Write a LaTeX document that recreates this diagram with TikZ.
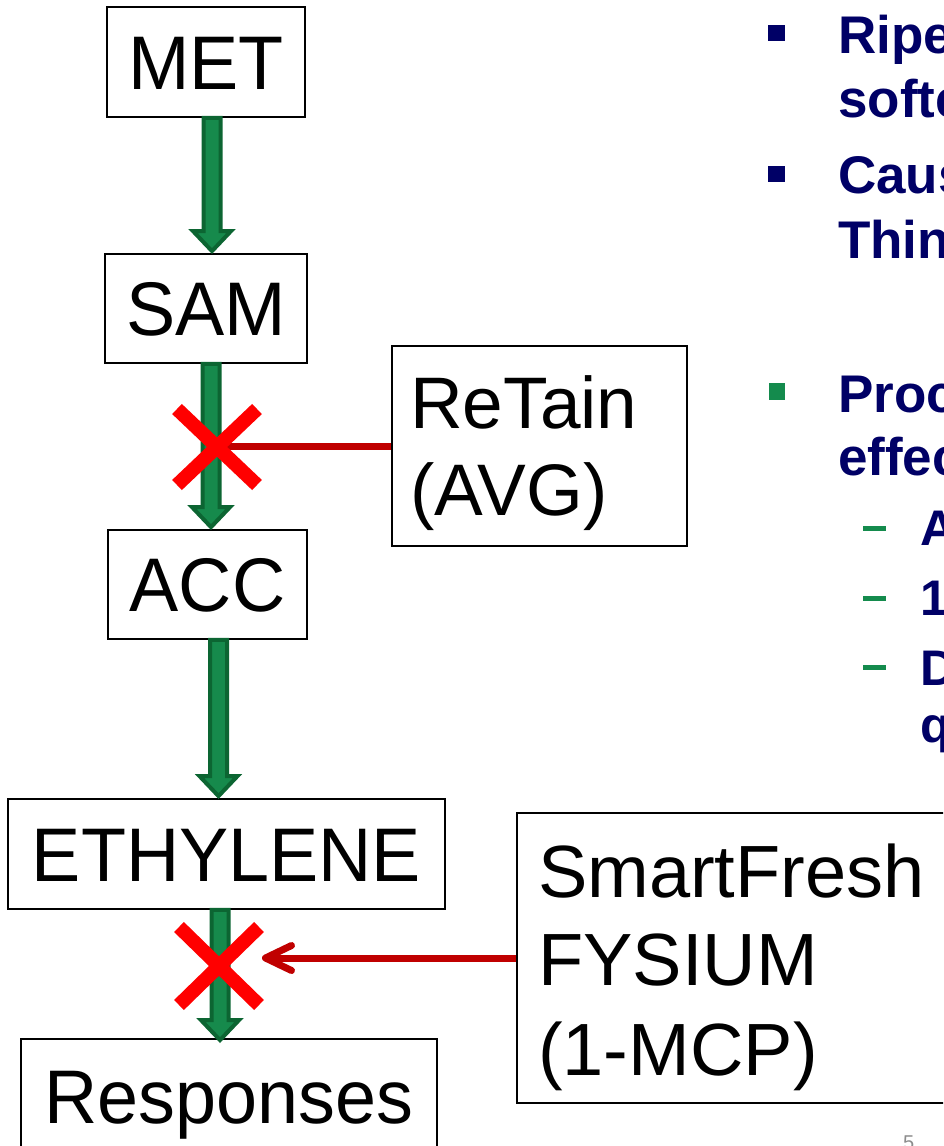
\documentclass[tikz,border=0pt]{standalone}
\usepackage{fontspec}
\setmainfont{Liberation Sans}
\newfontfamily\boxfont{Liberation Sans}[FakeStretch=0.97]
\usetikzlibrary{calc,arrows.meta}
\definecolor{navy}{HTML}{000066}
\definecolor{bulgreen}{HTML}{148B4D}
\definecolor{agfill}{HTML}{168A4C}
\definecolor{agline}{HTML}{0C6532}
\definecolor{inhib}{HTML}{C00000}
\definecolor{xred}{HTML}{FF0000}
\definecolor{pagegray}{HTML}{8C8C8C}
\tikzset{
  stagebox/.style={draw=black, line width=1.8pt, fill=white, inner sep=0pt,
    text height=54pt, text depth=0pt, font=\boxfont\fontsize{76}{88}\selectfont},
  agentbox/.style={draw=black, line width=1.8pt, fill=white, inner sep=0pt},
  agenttext/.style={anchor=base west, inner sep=0pt, font=\fontsize{74}{88}\selectfont},
  garrow/.style={fill=agfill, draw=agline, line width=4pt, line join=miter},
  inhibline/.style={draw=inhib, line width=7pt},
  xstroke/.style={draw=xred, line width=14pt, line cap=butt},
  bullettext/.style={anchor=base west, inner sep=0pt, text=navy, font=\bfseries\fontsize{53}{64}\selectfont},
  subtext/.style={anchor=base west, inner sep=0pt, text=navy, font=\bfseries\fontsize{50}{60}\selectfont},
}
\newcommand\greenarrow[2]{%
  \filldraw[garrow] ($(#1)+(-8.5,0)$) -- ($(#1)+(8.5,0)$) -- ($(#2)+(8.5,-22)$)
    -- ($(#2)+(19,-22)$) -- ($(#2)+(0,-2)$) -- ($(#2)+(-19,-22)$)
    -- ($(#2)+(-8.5,-22)$) -- cycle;}
\begin{document}
\begin{tikzpicture}[x=1pt,y=-1pt]
\useasboundingbox (0,0) rectangle (943,1146);
\clip (0,0) rectangle (943,1146);

% stage boxes
\node[stagebox, minimum width=198pt, minimum height=110pt] (met) at (206,62) {MET};
\node[stagebox, minimum width=202pt, minimum height=109pt] (sam) at (206,308.5) {SAM};
\node[stagebox, minimum width=199pt, minimum height=109pt] (acc) at (207.5,584.5) {ACC};
\node[stagebox, minimum width=437pt, minimum height=110pt] (eth) at (226.5,854) {ETHYLENE};
\node[stagebox, minimum width=416pt, minimum height=114pt] (resp) at (229,1096) {Responses};

% agent boxes
\node[agentbox, minimum width=295pt, minimum height=200pt] (retain) at (539.5,446) {};
\node[agenttext, font=\fontsize{73}{87}\selectfont] (rt1) at (410,428) {ReTain};
\node[agenttext, font=\fontsize{73}{87}\selectfont] (rt2) at (410,515) {(AVG)};
\node[agentbox, minimum width=443pt, minimum height=290pt] (smart) at (738.5,958) {};
\node[agenttext] (sf1) at (538,897) {SmartFresh};
\node[agenttext] (sf2) at (538,985) {FYSIUM};
\node[agenttext] (sf3) at (538,1075) {(1-MCP)};

% green block arrows
\coordinate (a1s) at ($(met.south)+(6,0)$);
\coordinate (a1e) at (a1s |- sam.north);
\coordinate (a2s) at ($(sam.south)+(5,0)$);
\coordinate (a2e) at (a2s |- acc.north);
\coordinate (a3s) at ($(acc.south)+(11,0)$);
\coordinate (a3e) at (a3s |- eth.north);
\coordinate (a4s) at ($(eth.south)+(-6.5,0)$);
\coordinate (a4e) at ($(a4s |- resp.north)+(0,4)$);
\greenarrow{a1s}{a1e}
\greenarrow{a2s}{a2e}
\greenarrow{a3s}{a3e}
\greenarrow{a4s}{a4e}

% inhibition: ReTain
\coordinate (x1) at (217,447);
\draw[inhibline] (retain.west) -- (retain.west -| x1);
\draw[xstroke] ($(x1)+(-40,-38)$) -- ($(x1)+(40,38)$);
\draw[xstroke] ($(x1)+(-40,38)$) -- ($(x1)+(40,-38)$);

% inhibition: SmartFresh
\coordinate (x2) at (219,966);
\coordinate (stop2) at (262,958);
\draw[inhibline, -{Straight Barb[length=26pt,width=25pt,round]}] (smart.west) -- (stop2);
\draw[xstroke] ($(x2)+(-40,-39)$) -- ($(x2)+(40,39)$);
\draw[xstroke] ($(x2)+(-40,39)$) -- ($(x2)+(40,-39)$);

% right-hand bullet text
\fill[navy] (768,25) rectangle (785,41);
\node[bullettext] (b1a) at (838,53) {Ripe};
\node[bullettext] (b1b) at (838,117) {softe};
\fill[navy] (768,166) rectangle (785,182);
\node[bullettext] (b2a) at (838,193) {Caus};
\node[bullettext] (b2b) at (838,258) {Thin};
\fill[bulgreen] (769,383) rectangle (785,400);
\node[bullettext] (b3a) at (838,412) {Proc};
\node[bullettext] (b3b) at (838,475) {effec};
\fill[bulgreen] (863,526) rectangle (886,530.5);
\node[subtext] (s1) at (920,545) {A};
\fill[bulgreen] (863,596) rectangle (886,600.5);
\node[subtext] (s2) at (920,615) {1};
\fill[bulgreen] (863,665) rectangle (886,669.5);
\node[subtext] (s3) at (920,685) {D};
\node[subtext] (s4) at (920,742) {q};

% page number
\node[anchor=base west, inner sep=0pt, text=pagegray, font=\fontsize{20}{24}\selectfont] (pnum) at (903,1149.5) {5};
\end{tikzpicture}
\end{document}
